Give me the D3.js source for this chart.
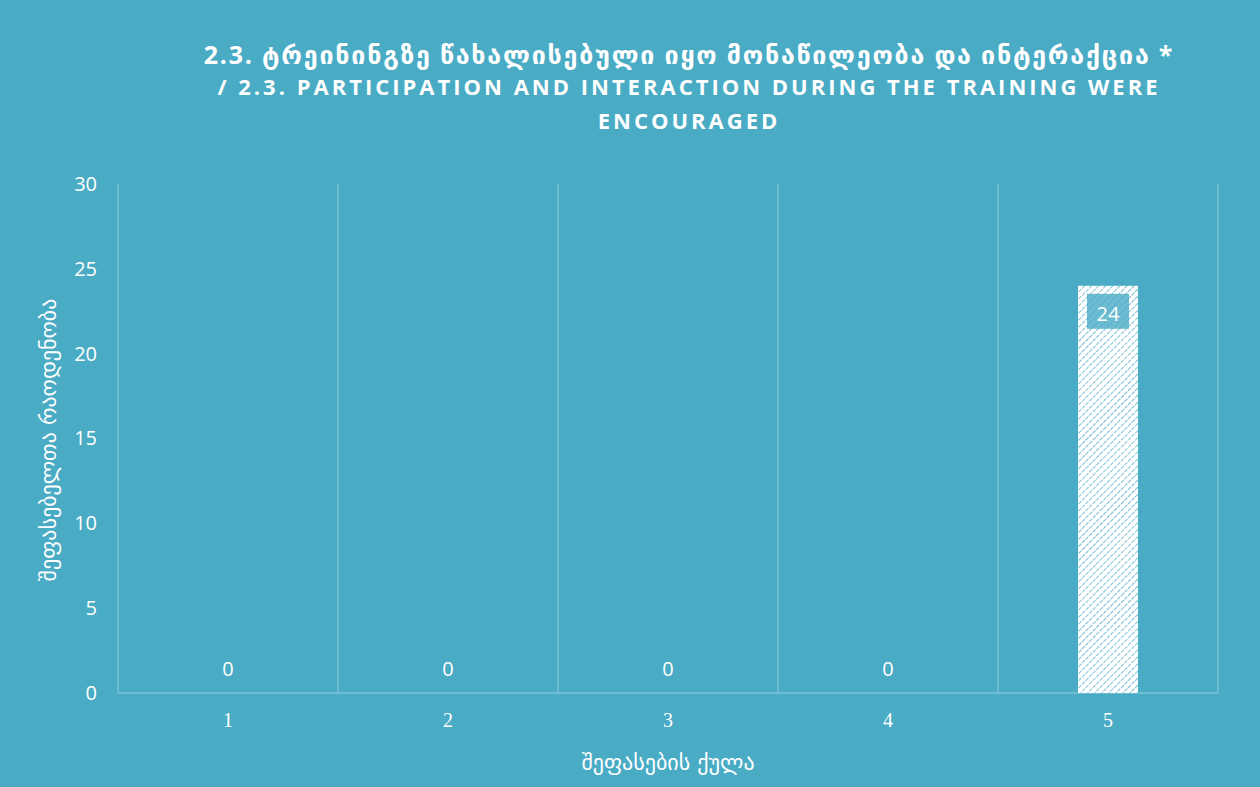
<!DOCTYPE html>
<html>
<head>
<meta charset="utf-8">
<script src="https://cdn.jsdelivr.net/npm/d3@7"></script>
<style>
  body { margin: 0; background: #fff; }
  svg { display: block; }
</style>
</head>
<body>
<script>
// chart data
var categories = ['1', '2', '3', '4', '5'];
var counts = [0, 0, 0, 0, 24];
var yTicks = [0, 5, 10, 15, 20, 25, 30];

var titleLines = [
	'2.3. ტრეინინგზე წახალისებული იყო მონაწილეობა და ინტერაქცია *',
	'/  2.3. PARTICIPATION AND INTERACTION DURING THE TRAINING WERE',
	'ENCOURAGED'
];
var yTitle = 'შეფასებელთა რაოდენობა';
var xTitle = 'შეფასების ქულა';

var W = 1260, H = 787;
var bg = '#4aabc5';
var margin = { top: 184, right: 42, bottom: 94, left: 118 };
var width = W - margin.left - margin.right,
	height = H - margin.top - margin.bottom;

var svg = d3.select('body').append('svg')
	.attr('width', W)
	.attr('height', H);

svg.append('rect').attr('width', W).attr('height', H).attr('fill', bg);

// hatch pattern for bars
var defs = svg.append('defs');
var pat = defs.append('pattern')
	.attr('id', 'hatch')
	.attr('patternUnits', 'userSpaceOnUse')
	.attr('width', 5).attr('height', 5)
	.attr('patternTransform', 'rotate(45)');
pat.append('rect').attr('width', 5).attr('height', 5).attr('fill', '#ffffff');
pat.append('line')
	.attr('x1', 0).attr('y1', 0).attr('x2', 0).attr('y2', 5)
	.attr('stroke', '#3fa6c2').attr('stroke-width', 1.4)
	.attr('stroke-dasharray', '2,1');

var g = svg.append('g')
	.attr('transform', 'translate(' + margin.left + ',' + margin.top + ')');

var x = d3.scaleBand().domain(categories).range([0, width]).padding(0);
var y = d3.scaleLinear().domain([0, 30]).range([height, 0]);

// vertical gridlines at category boundaries
var bounds = categories.map(function(c) { return x(c); }).concat([width]);
g.selectAll('.vgrid')
	.data(bounds)
	.enter().append('line')
	.attr('class', 'vgrid')
	.attr('x1', function(d) { return d; })
	.attr('x2', function(d) { return d; })
	.attr('y1', 0).attr('y2', height)
	.attr('stroke', '#7cc3d6').attr('stroke-width', 1.3);

// baseline
g.append('line')
	.attr('x1', 0).attr('x2', width)
	.attr('y1', y(0)).attr('y2', y(0))
	.attr('stroke', '#7cc3d6').attr('stroke-width', 1.3);

// bars
var barW = 60;
g.selectAll('.bar')
	.data(counts)
	.enter().append('rect')
	.attr('class', 'bar')
	.attr('x', function(d, i) { return x(categories[i]) + x.bandwidth() / 2 - barW / 2; })
	.attr('y', function(d) { return y(d); })
	.attr('width', barW)
	.attr('height', function(d) { return y(0) - y(d); })
	.attr('fill', 'url(#hatch)');

// data labels
counts.forEach(function(d, i) {
	var cx = x(categories[i]) + x.bandwidth() / 2;
	if (d > 0) {
		var ly = y(d) + 28;
		g.append('rect')
			.attr('x', cx - 21).attr('y', ly - 20)
			.attr('width', 42).attr('height', 35)
			.attr('fill', bg).attr('fill-opacity', 0.8);
		g.append('text')
			.attr('x', cx).attr('y', ly + 7)
			.attr('text-anchor', 'middle')
			.attr('font-family', 'Open Sans, sans-serif')
			.attr('font-size', 20)
			.attr('fill', '#fff')
			.text(d);
	} else {
		g.append('text')
			.attr('x', cx).attr('y', y(0) - 17)
			.attr('text-anchor', 'middle')
			.attr('font-family', 'Open Sans, sans-serif')
			.attr('font-size', 20)
			.attr('fill', '#fff')
			.text(d);
	}
});

// y axis
var yAxis = g.append('g')
	.call(d3.axisLeft(y).tickValues(yTicks).tickSize(0).tickPadding(21));
yAxis.select('.domain').remove();
yAxis.selectAll('text')
	.style('font-family', 'Open Sans, sans-serif')
	.style('font-size', '20px')
	.attr('fill', '#fff');

// x axis
var xAxis = g.append('g')
	.attr('transform', 'translate(0,' + height + ')')
	.call(d3.axisBottom(x).tickSize(0).tickPadding(20));
xAxis.select('.domain').remove();
xAxis.selectAll('text')
	.style('font-family', 'Liberation Serif, serif')
	.style('font-size', '20px')
	.attr('fill', '#fff');

// axis titles
svg.append('text')
	.attr('transform', 'translate(56,440) rotate(-90)')
	.attr('text-anchor', 'middle')
	.attr('font-family', 'DejaVu Sans, Noto Sans, sans-serif')
	.attr('font-size', 22)
	.attr('fill', '#fff')
	.text(yTitle);

svg.append('text')
	.attr('x', 668).attr('y', 770)
	.attr('text-anchor', 'middle')
	.attr('font-family', 'DejaVu Sans, Noto Sans, sans-serif')
	.attr('font-size', 22)
	.attr('fill', '#fff')
	.text(xTitle);

// title
var titleY = [64, 95, 129];
titleLines.forEach(function(t, i) {
	svg.append('text')
		.attr('x', 689).attr('y', titleY[i])
		.attr('text-anchor', 'middle')
		.attr('font-family', 'Open Sans, DejaVu Sans, sans-serif')
		.attr('font-weight', 'bold')
		.attr('font-size', i == 0 ? 25 : 22)
		.attr('letter-spacing', i == 0 ? 1.8 : 3)
		.attr('fill', '#fff')
		.text(t);
});
</script>
</body>
</html>
